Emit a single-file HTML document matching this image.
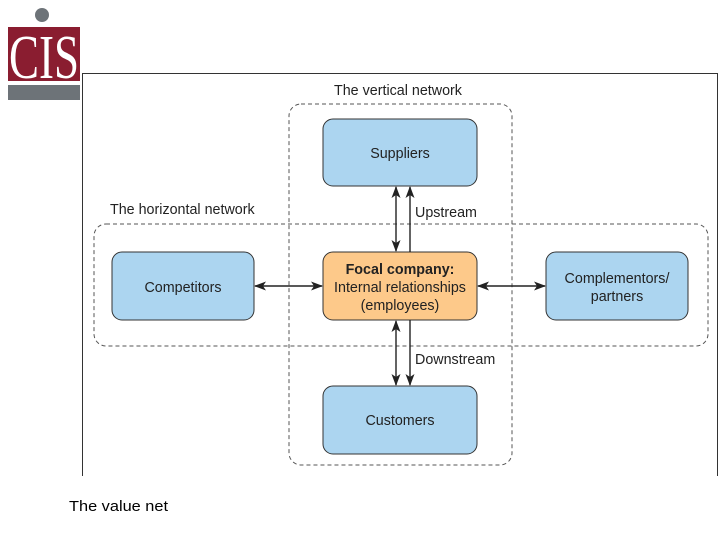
<!DOCTYPE html>
<html><head><style>
body{margin:0;background:#fff;width:720px;height:540px;overflow:hidden;position:relative;font-family:"Liberation Sans",sans-serif}
</style></head><body>
<svg width="720" height="540" style="position:absolute;left:0;top:0" font-family="Liberation Sans, sans-serif">
<defs>
<marker id="a" markerWidth="12" markerHeight="9" refX="11" refY="4.5" orient="auto" markerUnits="userSpaceOnUse"><path d="M0,0 L12,4.5 L0,9 L3,4.5 z" fill="#222"/></marker>
</defs>
<circle cx="42" cy="15" r="7" fill="#6d7378"/>
<rect x="8" y="27" width="72" height="54" fill="#8a1d30"/>
<text x="44" y="78" font-family="Liberation Serif, serif" font-size="62" fill="#fff" text-anchor="middle" textLength="70" lengthAdjust="spacingAndGlyphs">CIS</text>
<rect x="8" y="85" width="72" height="15" fill="#6d7378"/>
<path d="M82.5,476 V73.5 H717.5 V476" fill="none" stroke="#333" stroke-width="1"/>
<rect x="289" y="104" width="223" height="361" rx="12" fill="none" stroke="#555" stroke-dasharray="4,3"/>
<rect x="94" y="224" width="614" height="122" rx="12" fill="none" stroke="#555" stroke-dasharray="4,3"/>
<text x="334" y="95" font-size="14.3" fill="#222">The vertical network</text>
<text x="110" y="214" font-size="14.3" fill="#222">The horizontal network</text>
<g stroke="#333" stroke-width="1">
<rect x="323" y="119" width="154" height="67" rx="10" fill="#acd5f0"/>
<rect x="112" y="252" width="142" height="68" rx="10" fill="#acd5f0"/>
<rect x="323" y="252" width="154" height="68" rx="10" fill="#fdc98a"/>
<rect x="546" y="252" width="142" height="68" rx="10" fill="#acd5f0"/>
<rect x="323" y="386" width="154" height="68" rx="10" fill="#acd5f0"/>
</g>
<g font-size="14.3" fill="#222" text-anchor="middle">
<text x="400" y="158">Suppliers</text>
<text x="183" y="292">Competitors</text>
<text x="400" y="274" font-weight="bold">Focal company:</text>
<text x="400" y="292">Internal relationships</text>
<text x="400" y="310">(employees)</text>
<text x="617" y="283">Complementors/</text>
<text x="617" y="301">partners</text>
<text x="400" y="425">Customers</text>
</g>
<g stroke="#222" stroke-width="1.4" fill="none">
<line x1="396" y1="219" x2="396" y2="187" marker-end="url(#a)"/>
<line x1="396" y1="219" x2="396" y2="251" marker-end="url(#a)"/>
<line x1="410" y1="252" x2="410" y2="187" marker-end="url(#a)"/>
<line x1="396" y1="353" x2="396" y2="321" marker-end="url(#a)"/>
<line x1="396" y1="353" x2="396" y2="385" marker-end="url(#a)"/>
<line x1="410" y1="320" x2="410" y2="385" marker-end="url(#a)"/>
<line x1="288" y1="286" x2="255" y2="286" marker-end="url(#a)"/>
<line x1="288" y1="286" x2="322" y2="286" marker-end="url(#a)"/>
<line x1="511" y1="286" x2="478" y2="286" marker-end="url(#a)"/>
<line x1="511" y1="286" x2="545" y2="286" marker-end="url(#a)"/>
</g>
<text x="415" y="217" font-size="14.3" fill="#222">Upstream</text>
<text x="415" y="364" font-size="14.3" fill="#222">Downstream</text>
<text x="69" y="511" font-size="15" fill="#000" textLength="99" lengthAdjust="spacingAndGlyphs">The value net</text>
</svg>
</body></html>
